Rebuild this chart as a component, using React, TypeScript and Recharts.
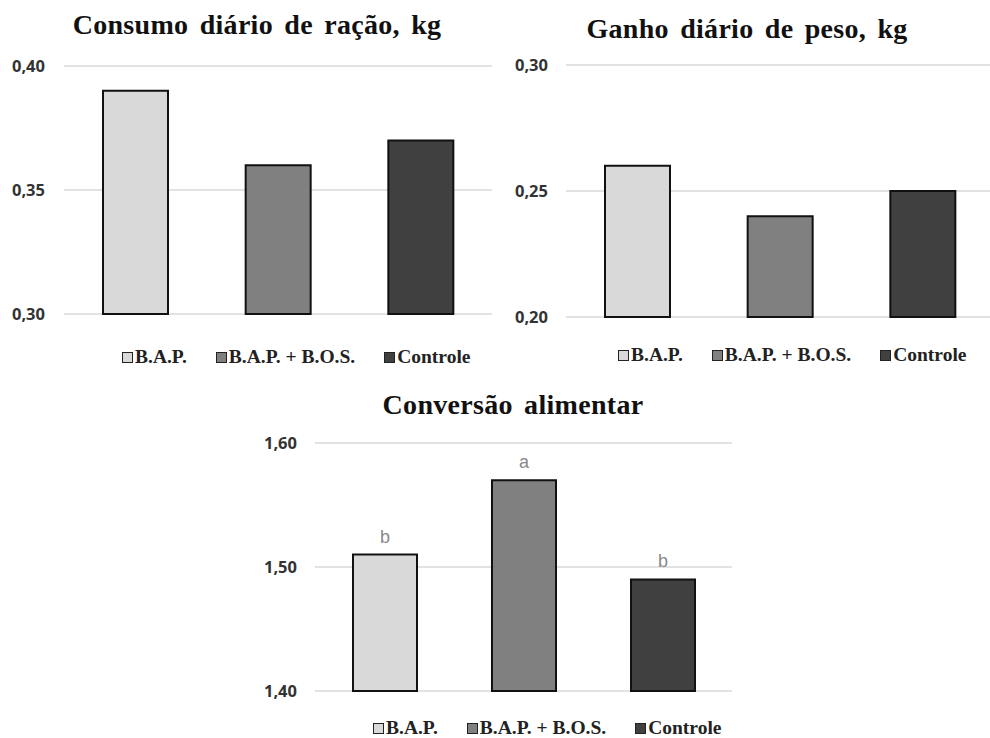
import { BarChart, Bar, XAxis, YAxis, CartesianGrid, Cell, LabelList } from "recharts";

const treatments = ["B.A.P.", "B.A.P. + B.O.S.", "Controle"];
const fills = ["#d9d9d9", "#808080", "#404040"];

const consumo = [0.39, 0.36, 0.37];
const ganho = [0.26, 0.24, 0.25];
const conversao = [1.51, 1.57, 1.49];
const conversaoLetters = ["b", "a", "b"];

const consumoTicks = [0.3, 0.35, 0.4];
const ganhoTicks = [0.2, 0.25, 0.3];
const conversaoTicks = [1.4, 1.5, 1.6];

const toRows = (values: number[], letters?: string[]) =>
  treatments.map((name, i) => ({ name, value: values[i], letter: letters ? letters[i] : "" }));

const fmt = (v: number) => v.toFixed(2).replace(".", ",");

const titleStyle: React.CSSProperties = {
  position: "absolute",
  fontFamily: "'Liberation Serif', 'Times New Roman', serif",
  fontWeight: 700,
  fontSize: 28,
  lineHeight: "32px",
  color: "#111",
  whiteSpace: "nowrap",
  transform: "translateX(-50%)",
  letterSpacing: 0.3,
  wordSpacing: 4,
};

function Legend({ left, top }: { left: number; top: number }) {
  return (
    <div
      style={{
        position: "absolute",
        left,
        top,
        display: "flex",
        gap: 29,
        fontFamily: "'Liberation Serif', 'Times New Roman', serif",
        fontWeight: 700,
        fontSize: 19.5,
        color: "#222",
        whiteSpace: "nowrap",
        lineHeight: "18px",
      }}
    >
      {treatments.map((t, i) => (
        <div key={t} style={{ display: "flex", alignItems: "center", gap: 2 }}>
          <span
            style={{
              display: "inline-block",
              width: 9,
              height: 9,
              background: fills[i],
              border: "1.5px solid #222",
            }}
          />
          <span>{t}</span>
        </div>
      ))}
    </div>
  );
}

function Panel({
  left,
  top,
  width,
  height,
  data,
  ticks,
  axisWidth,
  tickMargin,
  margin,
  barSize,
  letters,
}: {
  left: number;
  top: number;
  width: number;
  height: number;
  data: { name: string; value: number; letter: string }[];
  ticks: number[];
  axisWidth: number;
  tickMargin: number;
  margin: { top: number; right: number; bottom: number; left: number };
  barSize: number;
  letters?: boolean;
}) {
  return (
    <div style={{ position: "absolute", left, top }}>
      <BarChart width={width} height={height} data={data} margin={margin} barSize={barSize}>
        <CartesianGrid horizontal vertical={false} stroke="#d9d9d9" strokeWidth={1.5} />
        <XAxis dataKey="name" hide />
        <YAxis
          width={axisWidth}
          domain={[ticks[0], ticks[ticks.length - 1]]}
          ticks={ticks}
          tickFormatter={fmt}
          axisLine={false}
          tickLine={false}
          tickMargin={tickMargin}
          tick={{ fontFamily: "'Open Sans', sans-serif", fontWeight: 700, fontSize: 16.5, fill: "#333" }}
        />
        <Bar dataKey="value" stroke="#111" strokeWidth={2} isAnimationActive={false}>
          {data.map((d, i) => (
            <Cell key={d.name} fill={fills[i]} />
          ))}
          {letters && (
            <LabelList
              dataKey="letter"
              position="top"
              offset={12}
              style={{ fontFamily: "'Liberation Sans', Arial, sans-serif", fontSize: 18, fill: "#8a8a8a" }}
            />
          )}
        </Bar>
      </BarChart>
    </div>
  );
}

export default function App() {
  return (
    <div
      style={{
        position: "absolute",
        left: 0,
        top: 0,
        width: 990,
        height: 738,
        overflow: "hidden",
        background: "#fff",
      }}
    >
      <div style={{ ...titleStyle, left: 257, top: 9 }}>Consumo diário de ração, kg</div>
      <Panel
        left={0}
        top={0}
        width={495}
        height={380}
        data={toRows(consumo)}
        ticks={consumoTicks}
        axisWidth={64}
        tickMargin={13}
        margin={{ top: 66, right: 3, bottom: 66, left: 0 }}
        barSize={65}
      />
      <Legend left={122} top={348} />

      <div style={{ ...titleStyle, left: 747, top: 13 }}>Ganho diário de peso, kg</div>
      <Panel
        left={495}
        top={0}
        width={500}
        height={380}
        data={toRows(ganho)}
        ticks={ganhoTicks}
        axisWidth={71}
        tickMargin={12}
        margin={{ top: 65, right: 1, bottom: 63, left: 0 }}
        barSize={65}
      />
      <Legend left={618} top={346} />

      <div style={{ ...titleStyle, left: 513, top: 389 }}>Conversão alimentar</div>
      <Panel
        left={240}
        top={380}
        width={500}
        height={358}
        data={toRows(conversao, conversaoLetters)}
        ticks={conversaoTicks}
        axisWidth={75}
        tickMargin={12}
        margin={{ top: 63, right: 8, bottom: 47, left: 0 }}
        barSize={64}
        letters
      />
      <Legend left={373} top={719} />
    </div>
  );
}
